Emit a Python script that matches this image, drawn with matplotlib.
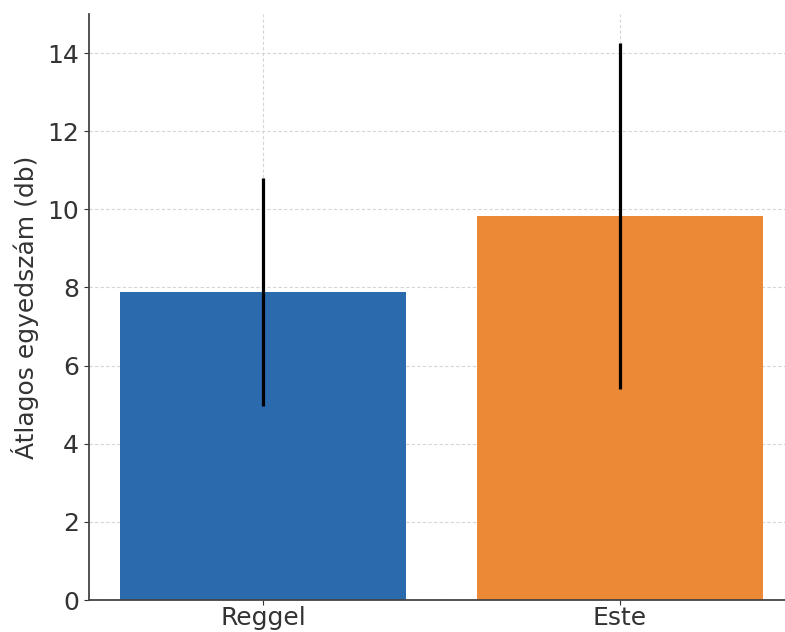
import matplotlib
matplotlib.use("Agg")
import matplotlib.pyplot as plt

categories = ["Reggel", "Este"]
means = [7.88, 9.83]
errors = [2.92, 4.44]
colors = ["#2b6aad", "#ec8936"]
ylabel = "Átlagos egyedszám (db)"

W, H = 785, 632
fig = plt.figure(figsize=(W / 100, H / 100), dpi=100)
left, right, top, bottom = 88.7, 785, 14, 600
ax = fig.add_axes([left / W, 1 - bottom / H, (right - left) / W, (bottom - top) / H])

x = list(range(len(categories)))
ax.bar(x, means, width=0.8, color=colors, zorder=2)
ax.errorbar(x, means, yerr=errors, fmt="none", ecolor="black", elinewidth=2.3, capsize=0, zorder=3)

ax.set_xlim(-0.489, 1.463)
ax.set_ylim(0, 15)
ax.set_xticks(x)
ax.set_xticklabels(categories)
ax.set_yticks([0, 2, 4, 6, 8, 10, 12, 14])
ax.set_ylabel(ylabel, fontsize=18, color="#333333", labelpad=6)
ax.tick_params(labelsize=18, colors="#333333", length=3.5)
ax.tick_params(axis="x", pad=1)
ax.grid(True, linestyle=(0, (3, 2)), color="#d5d5d5", linewidth=0.8, zorder=0)
ax.set_axisbelow(True)
for s in ["top", "right"]:
    ax.spines[s].set_visible(False)
for s in ["left", "bottom"]:
    ax.spines[s].set_color("#444444")
    ax.spines[s].set_linewidth(1.3)

fig.savefig("out.png", dpi=100)
